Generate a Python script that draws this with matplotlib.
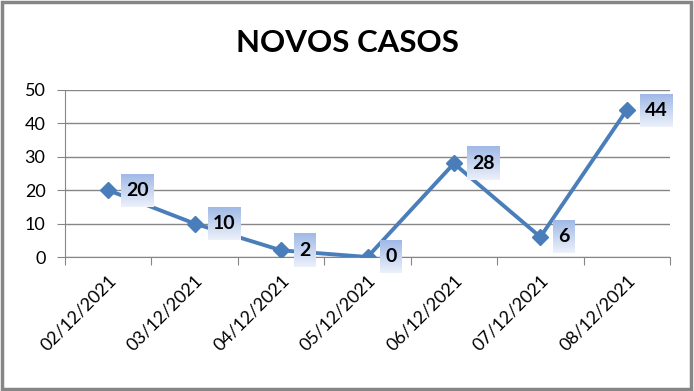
import numpy as np
import matplotlib
matplotlib.use('agg')
import matplotlib.pyplot as plt
import matplotlib.patches as mpatches

dates = ['02/12/2021', '03/12/2021', '04/12/2021', '05/12/2021',
         '06/12/2021', '07/12/2021', '08/12/2021']
casos = [20, 10, 2, 0, 28, 6, 44]
y_ticks = [0, 10, 20, 30, 40, 50]

plt.rcParams['font.family'] = ['Lato', 'DejaVu Sans']
grey = '#868686'
blue = '#4a7ebb'

fig = plt.figure(figsize=(6.94, 3.91), dpi=100)
ax = fig.add_axes([65/694, 1-257/391, 605/694, 167/391])

x = np.arange(len(dates))
ax.plot(x, casos, color=blue, lw=2.8, marker='D', ms=8.5, zorder=3)

ax.set_xlim(-0.5, len(dates)-0.5)
ax.set_ylim(0, 50)
ax.set_yticks(y_ticks)
ax.set_yticklabels([str(v) for v in y_ticks], fontsize=13)
ax.yaxis.grid(True, color=grey, lw=1)
ax.set_axisbelow(True)
for s in ['top', 'right']:
    ax.spines[s].set_visible(False)
for s in ['left', 'bottom']:
    ax.spines[s].set_color(grey)
ax.tick_params(axis='y', length=6, color=grey, pad=8)
ax.set_xticks(np.arange(len(dates)+1)-0.5, minor=False)
ax.set_xticklabels([''] * (len(dates)+1))
ax.tick_params(axis='x', length=6, color=grey)
ax.set_xticks(x, minor=True)
ax.set_xticklabels(dates, minor=True, rotation=45, ha='right',
                   rotation_mode='anchor', fontsize=13)
ax.tick_params(axis='x', which='minor', length=0, pad=11)

fig.text(0.5, 0.89, 'NOVOS CASOS', ha='center', va='center',
         fontsize=22.5, fontweight='bold')

# data labels with gradient boxes
labels = []
for xi, yi in zip(x, casos):
    t = ax.annotate(str(yi), (xi, yi), xytext=(18, 0), textcoords='offset pixels',
                    ha='left', va='center', fontsize=14, fontweight='bold',
                    zorder=6)
    labels.append(t)

fig.canvas.draw()
r = fig.canvas.get_renderer()
top = np.array([160, 185, 230]) / 255
bot = np.array([236, 241, 250]) / 255
grad = np.linspace(0, 1, 64)[:, None, None]
img = top * (1 - grad) + bot * grad
inv = ax.transData.inverted()
for t in labels:
    bb = t.get_window_extent(r)
    cx, cy = (bb.x0 + bb.x1) / 2, (bb.y0 + bb.y1) / 2
    w = bb.width + 10
    h = 33
    (x0, y0), (x1, y1) = inv.transform([(cx - w/2, cy - h/2), (cx + w/2, cy + h/2)])
    ax.imshow(img, extent=(x0, x1, y0, y1), aspect='auto', zorder=5,
              origin='upper', clip_on=False)
ax.set_xlim(-0.5, len(dates)-0.5)
ax.set_ylim(0, 50)

fig.patches.append(mpatches.Rectangle((0.003, 0.004), 0.992, 0.992,
                   transform=fig.transFigure, fill=False, ec=grey, lw=2.5))

fig.savefig('out.png', dpi=100)
